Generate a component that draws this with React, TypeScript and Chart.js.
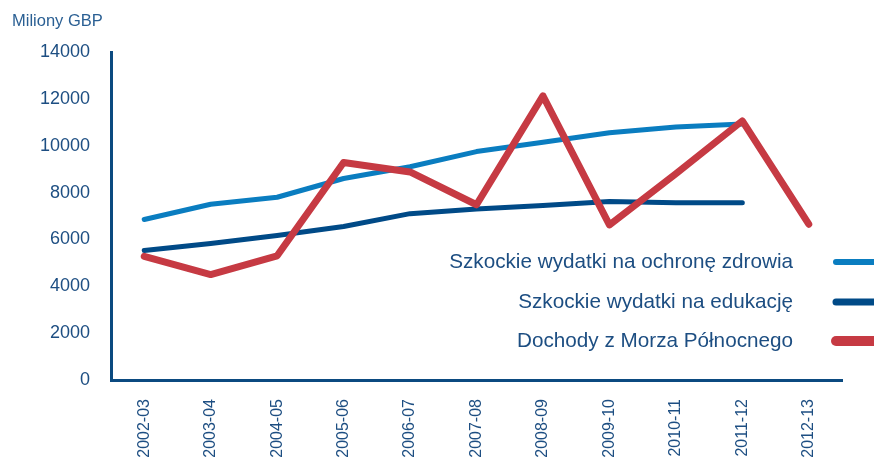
import React, { useEffect, useRef } from "react";
import { Chart, registerables } from "chart.js";

Chart.register(...registerables);

const categories = ["2002-03", "2003-04", "2004-05", "2005-06", "2006-07", "2007-08", "2008-09", "2009-10", "2010-11", "2011-12", "2012-13"];
const healthSpending = [6850, 7500, 7800, 8600, 9100, 9750, 10150, 10550, 10800, 10930, null];
const educationSpending = [5530, 5830, 6170, 6550, 7100, 7300, 7450, 7620, 7570, 7570, null];
const northSeaRevenue = [5280, 4500, 5300, 9280, 8880, 7480, 12130, 6620, 8800, 11060, 6650];
const yTicks = [0, 2000, 4000, 6000, 8000, 10000, 12000, 14000];
const seriesNames = ["Szkockie wydatki na ochronę zdrowia", "Szkockie wydatki na edukację", "Dochody z Morza Północnego"];
const seriesColors = ["#0a7dc0", "#004a87", "#c63a43"];
const yAxisTitle = "Miliony GBP";

const textColor = "#1d4e82";
const axisColor = "#0b4a80";

const overlayPlugin = {
  id: "overlay",
  afterDraw(chart: any) {
    const ctx = chart.ctx;
    ctx.save();
    // axis title
    ctx.fillStyle = "#2a5f93";
    ctx.font = "16.5px 'Liberation Sans', Arial, sans-serif";
    ctx.textAlign = "left";
    ctx.textBaseline = "alphabetic";
    ctx.fillText(yAxisTitle, 12, 26);
    // legend
    const baselines = [268, 308, 347];
    const widths = [6, 7, 10];
    ctx.font = "20.7px 'Liberation Sans', Arial, sans-serif";
    ctx.textAlign = "right";
    seriesNames.forEach((name, i) => {
      ctx.fillStyle = textColor;
      ctx.fillText(name, 793, baselines[i]);
      ctx.strokeStyle = seriesColors[i];
      ctx.lineWidth = widths[i];
      ctx.lineCap = "round";
      ctx.beginPath();
      ctx.moveTo(836, baselines[i] - 6);
      ctx.lineTo(884, baselines[i] - 6);
      ctx.stroke();
    });
    ctx.restore();
  },
};

export default function App() {
  const ref = useRef<HTMLCanvasElement | null>(null);
  useEffect(() => {
    if (!ref.current) return;
    const chart = new Chart(ref.current, {
      type: "line",
      data: {
        labels: categories,
        datasets: [
          {
            label: seriesNames[0],
            data: healthSpending,
            borderColor: seriesColors[0],
            borderWidth: 5,
            pointRadius: 0,
            tension: 0,
            borderCapStyle: "round",
            borderJoinStyle: "round",
            order: 2,
          },
          {
            label: seriesNames[1],
            data: educationSpending,
            borderColor: seriesColors[1],
            borderWidth: 5,
            pointRadius: 0,
            tension: 0,
            borderCapStyle: "round",
            borderJoinStyle: "round",
            order: 1,
          },
          {
            label: seriesNames[2],
            data: northSeaRevenue,
            borderColor: seriesColors[2],
            borderWidth: 7,
            pointRadius: 0,
            tension: 0,
            borderCapStyle: "round",
            borderJoinStyle: "round",
            order: 0,
          },
        ],
      },
      options: {
        animation: false,
        responsive: false,
        maintainAspectRatio: false,
        devicePixelRatio: 1,
        layout: { padding: { top: 52, right: 32, bottom: 0, left: 0 } },
        plugins: { legend: { display: false }, tooltip: { enabled: false }, title: { display: false } },
        scales: {
          x: {
            type: "category",
            offset: true,
            grid: { display: false, drawTicks: false },
            border: { display: true, color: axisColor, width: 3 },
            ticks: {
              color: textColor,
              font: { family: "'Liberation Sans', Arial, sans-serif", size: 16 },
              minRotation: 90,
              maxRotation: 90,
              padding: 19,
              autoSkip: false,
            },
            afterFit(scale: any) {
              scale.height = 79;
            },
          },
          y: {
            min: 0,
            max: 14000,
            grid: { display: false, drawTicks: false },
            border: { display: true, color: axisColor, width: 3 },
            afterBuildTicks(scale: any) {
              scale.ticks = yTicks.map((v) => ({ value: v }));
            },
            ticks: {
              color: textColor,
              font: { family: "'Liberation Sans', Arial, sans-serif", size: 18 },
              padding: 21,
              callback: (v: any) => String(v),
            },
            afterFit(scale: any) {
              scale.width = 111;
            },
          },
        },
      },
      plugins: [overlayPlugin],
    });
    return () => chart.destroy();
  }, []);
  return (
    <div style={{ position: "absolute", left: 0, top: 0, width: 874, height: 459 }}>
      <canvas ref={ref} width={874} height={459} style={{ width: 874, height: 459, display: "block" }} />
    </div>
  );
}
